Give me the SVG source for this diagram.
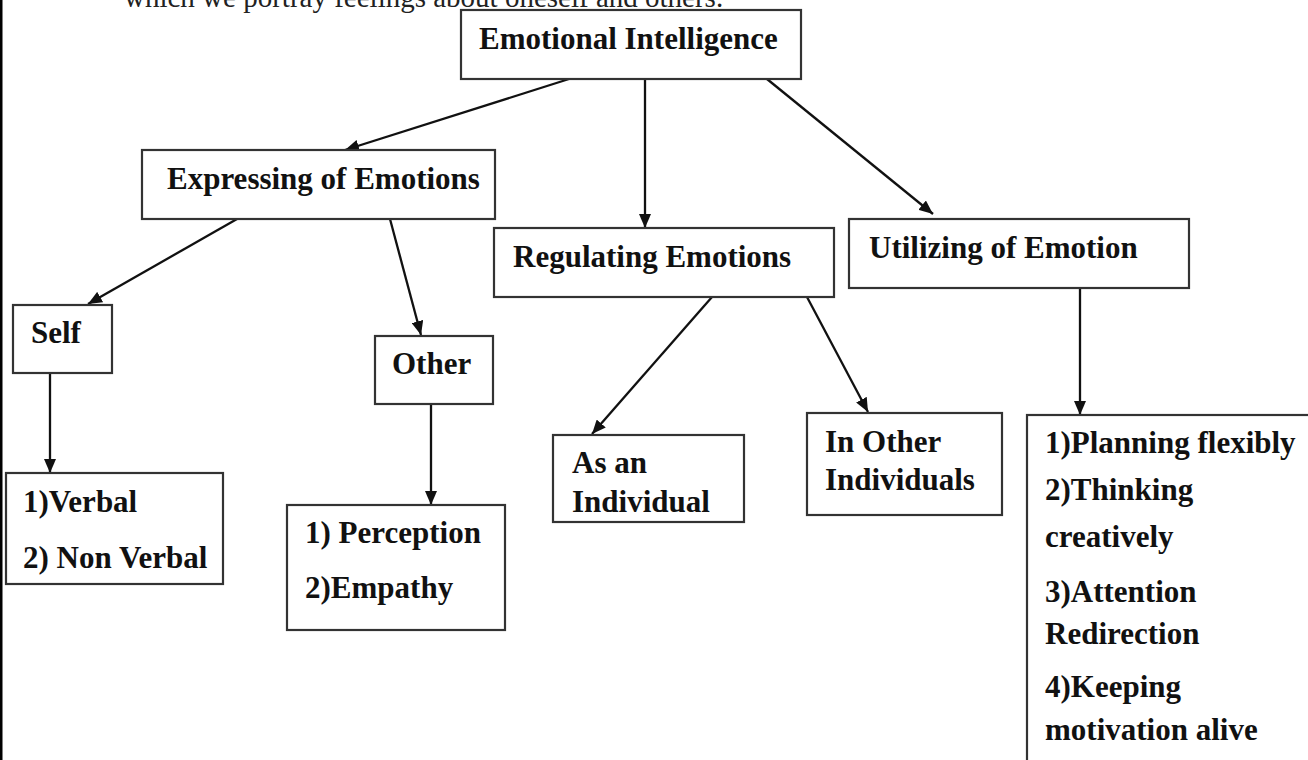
<svg xmlns="http://www.w3.org/2000/svg" width="1308" height="760" viewBox="0 0 1308 760">
<style>
.box{fill:#fff;stroke:#333;stroke-width:2.2}
.t{font-family:"Liberation Serif","Times New Roman",serif;font-weight:bold;font-size:31px;fill:#111}
.top{font-family:"Liberation Serif","Times New Roman",serif;font-size:29px;fill:#222}
.c{stroke:#111;stroke-width:2.3;fill:none;marker-end:url(#ah)}
</style>
<defs>
<marker id="ah" viewBox="0 0 14 12" refX="14" refY="6" markerWidth="14" markerHeight="12" markerUnits="userSpaceOnUse" orient="auto">
<path d="M0,0 L14,6 L0,12 Z" fill="#111"/>
</marker>
</defs>
<rect width="1308" height="760" fill="#fff"/>
<rect x="0" y="0" width="2.5" height="760" fill="#000"/>
<text class="top" x="124" y="7">which we portray feelings about oneself and others.</text>

<g id="connectors">
<line class="c" x1="569" y1="79" x2="345" y2="150"/>
<line class="c" x1="645" y1="79" x2="645" y2="228"/>
<line class="c" x1="767" y1="79" x2="933" y2="214"/>
<line class="c" x1="237" y1="219" x2="88" y2="304"/>
<line class="c" x1="390" y1="219" x2="421" y2="335"/>
<line class="c" x1="50" y1="373" x2="50" y2="473"/>
<line class="c" x1="431" y1="404" x2="431" y2="505"/>
<line class="c" x1="712" y1="297" x2="592" y2="434"/>
<line class="c" x1="807" y1="297" x2="868" y2="412"/>
<line class="c" x1="1080" y1="288" x2="1080" y2="415"/>
</g>

<g id="emotional-intelligence">
<rect class="box" x="461" y="10" width="340" height="69"/>
<text class="t" x="479" y="49">Emotional Intelligence</text>
</g>
<g id="expressing">
<rect class="box" x="142" y="150" width="353" height="69"/>
<text class="t" x="167" y="189">Expressing of Emotions</text>
</g>
<g id="regulating">
<rect class="box" x="494" y="228" width="340" height="69"/>
<text class="t" x="513" y="267">Regulating Emotions</text>
</g>
<g id="utilizing">
<rect class="box" x="849" y="219" width="340" height="69"/>
<text class="t" x="869" y="258">Utilizing of Emotion</text>
</g>
<g id="self">
<rect class="box" x="13" y="305" width="99" height="68"/>
<text class="t" x="31" y="343">Self</text>
</g>
<g id="other">
<rect class="box" x="375" y="336" width="118" height="68"/>
<text class="t" x="392" y="374">Other</text>
</g>
<g id="verbal">
<rect class="box" x="6" y="473" width="217" height="111"/>
<text class="t" x="23" y="512">1)Verbal</text>
<text class="t" x="23" y="568">2) Non Verbal</text>
</g>
<g id="perception">
<rect class="box" x="287" y="505" width="218" height="125"/>
<text class="t" x="305" y="543">1) Perception</text>
<text class="t" x="305" y="598">2)Empathy</text>
</g>
<g id="as-individual">
<rect class="box" x="553" y="435" width="191" height="87"/>
<text class="t" x="572" y="473">As an</text>
<text class="t" x="572" y="512">Individual</text>
</g>
<g id="in-other">
<rect class="box" x="807" y="413" width="195" height="102"/>
<text class="t" x="825" y="452">In Other</text>
<text class="t" x="825" y="490">Individuals</text>
</g>
<g id="utilizing-list">
<rect class="box" x="1027" y="415" width="300" height="360"/>
<text class="t" x="1045" y="453">1)Planning flexibly</text>
<text class="t" x="1045" y="500">2)Thinking</text>
<text class="t" x="1045" y="547">creatively</text>
<text class="t" x="1045" y="602">3)Attention</text>
<text class="t" x="1045" y="644">Redirection</text>
<text class="t" x="1045" y="697">4)Keeping</text>
<text class="t" x="1045" y="740">motivation alive</text>
</g>
</svg>
